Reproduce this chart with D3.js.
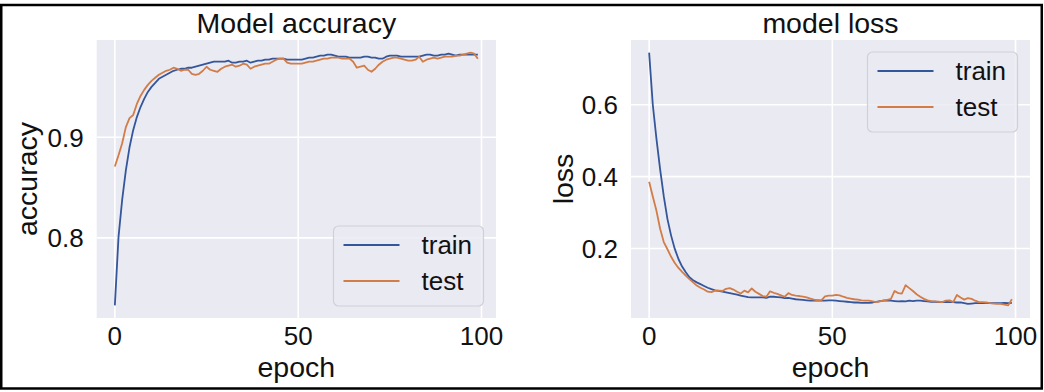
<!DOCTYPE html>
<html lang="en">
<head>
<meta charset="UTF-8">
<title>Model accuracy and model loss</title>
<script src="https://d3js.org/d3.v7.min.js"></script>
<style>
    body {
        margin: 0;
        background: #fff;
        font-family: "Liberation Sans", Arial, sans-serif;
    }
    svg text {
        fill: #111;
    }
</style>
</head>
<body>
<div id="chart"></div>
<script>
    // values, one per epoch (0..99)
    const trainAcc = [
        0.733, 0.801, 0.838, 0.867, 0.890, 0.907, 0.920, 0.930, 0.938, 0.945,
        0.950, 0.954, 0.958, 0.960, 0.962, 0.964, 0.966, 0.967, 0.968, 0.968,
        0.969, 0.969, 0.970, 0.971, 0.972, 0.973, 0.974, 0.975, 0.975, 0.975,
        0.975, 0.976, 0.974, 0.974, 0.975, 0.975, 0.976, 0.974, 0.975, 0.976,
        0.976, 0.977, 0.977, 0.978, 0.978, 0.978, 0.978, 0.977, 0.977, 0.977,
        0.977, 0.977, 0.978, 0.979, 0.979, 0.980, 0.981, 0.981, 0.982, 0.982,
        0.981, 0.980, 0.980, 0.980, 0.979, 0.979, 0.979, 0.979, 0.980, 0.980,
        0.979, 0.979, 0.978, 0.978, 0.980, 0.981, 0.981, 0.981, 0.980, 0.980,
        0.980, 0.980, 0.980, 0.980, 0.981, 0.982, 0.982, 0.981, 0.981, 0.982,
        0.982, 0.983, 0.982, 0.981, 0.982, 0.982, 0.982, 0.982, 0.982, 0.982
    ];
    const testAcc = [
        0.871, 0.882, 0.894, 0.910, 0.919, 0.922, 0.933, 0.941, 0.947, 0.952,
        0.956, 0.959, 0.962, 0.964, 0.966, 0.967, 0.969, 0.968, 0.966, 0.967,
        0.967, 0.963, 0.962, 0.963, 0.966, 0.970, 0.967, 0.966, 0.965, 0.968,
        0.970, 0.971, 0.972, 0.970, 0.971, 0.973, 0.972, 0.968, 0.970, 0.971,
        0.972, 0.973, 0.973, 0.975, 0.977, 0.978, 0.978, 0.974, 0.973, 0.973,
        0.973, 0.973, 0.974, 0.975, 0.975, 0.976, 0.977, 0.978, 0.978, 0.979,
        0.979, 0.979, 0.978, 0.978, 0.978, 0.975, 0.969, 0.970, 0.971, 0.967,
        0.965, 0.968, 0.972, 0.975, 0.977, 0.978, 0.979, 0.979, 0.978, 0.977,
        0.976, 0.976, 0.977, 0.980, 0.975, 0.977, 0.978, 0.979, 0.978, 0.979,
        0.980, 0.980, 0.980, 0.981, 0.981, 0.982, 0.983, 0.984, 0.983, 0.978
    ];
    const trainLoss = [
        0.745, 0.600, 0.505, 0.420, 0.345, 0.282, 0.236, 0.199, 0.171, 0.150,
        0.134, 0.120, 0.112, 0.106, 0.101, 0.096, 0.091, 0.087, 0.084, 0.082,
        0.080, 0.078, 0.076, 0.074, 0.072, 0.069, 0.067, 0.065, 0.064, 0.064,
        0.064, 0.064, 0.063, 0.066, 0.066, 0.065, 0.064, 0.062, 0.063, 0.061,
        0.059, 0.058, 0.057, 0.056, 0.055, 0.055, 0.056, 0.055, 0.055, 0.056,
        0.056, 0.055, 0.054, 0.053, 0.052, 0.051, 0.050, 0.050, 0.049, 0.049,
        0.049, 0.050, 0.052, 0.054, 0.055, 0.056, 0.055, 0.054, 0.053, 0.054,
        0.053, 0.055, 0.054, 0.055, 0.055, 0.054, 0.053, 0.052, 0.052, 0.051,
        0.051, 0.052, 0.051, 0.051, 0.050, 0.050, 0.048, 0.046, 0.047, 0.048,
        0.048, 0.048, 0.049, 0.048, 0.048, 0.048, 0.048, 0.049, 0.048, 0.049
    ];
    const testLoss = [
        0.386, 0.345, 0.305, 0.255, 0.218, 0.198, 0.177, 0.160, 0.146, 0.135,
        0.125, 0.115, 0.106, 0.097, 0.091, 0.086, 0.080, 0.079, 0.083, 0.083,
        0.082, 0.088, 0.090, 0.086, 0.080, 0.075, 0.083, 0.078, 0.089, 0.080,
        0.074, 0.068, 0.066, 0.081, 0.077, 0.074, 0.070, 0.066, 0.076, 0.071,
        0.069, 0.068, 0.066, 0.064, 0.061, 0.058, 0.056, 0.056, 0.067, 0.069,
        0.069, 0.071, 0.070, 0.066, 0.063, 0.061, 0.059, 0.058, 0.056, 0.055,
        0.055, 0.053, 0.051, 0.053, 0.056, 0.057, 0.060, 0.082, 0.076, 0.075,
        0.098, 0.090, 0.082, 0.073, 0.066, 0.060, 0.056, 0.054, 0.053, 0.052,
        0.051, 0.055, 0.056, 0.051, 0.071, 0.064, 0.058, 0.062, 0.060, 0.055,
        0.051, 0.051, 0.050, 0.048, 0.047, 0.046, 0.046, 0.044, 0.042, 0.059
    ];

    const seriesNames = ["train", "test"];
    const seriesColors = ["#34569b", "#d27c47"];
    const epochTicks = [0, 50, 100];
    const accTicks = [0.8, 0.9];
    const lossTicks = [0.2, 0.4, 0.6];

    const W = 1044, H = 392;

    const svg = d3.select("#chart")
        .append("svg")
        .attr("width", W)
        .attr("height", H);

    // black frame around the whole picture
    svg.append("rect")
        .attr("x", 1.25)
        .attr("y", 5)
        .attr("width", 1040.5)
        .attr("height", 383.5)
        .attr("fill", "none")
        .attr("stroke", "#000")
        .attr("stroke-width", 2.5);

    function drawPanel(p) {
        const g = svg.append("g")
            .attr("transform", "translate(" + p.left + "," + p.top + ")");

        const n = p.series[0].length;
        // matplotlib style 5% margins
        const xPad = (n - 1) * 0.05;
        const x = d3.scaleLinear()
            .domain([-xPad, n - 1 + xPad])
            .range([0, p.width]);

        const ext = d3.extent(p.series.flat());
        const yPad = (ext[1] - ext[0]) * 0.05;
        const y = d3.scaleLinear()
            .domain([ext[0] - yPad, ext[1] + yPad])
            .range([p.height, 0]);

        // axes background
        g.append("rect")
            .attr("width", p.width)
            .attr("height", p.height)
            .attr("fill", "#eaeaf2");

        // grid
        g.append("g")
            .selectAll("line")
            .data(epochTicks)
            .join("line")
            .attr("x1", d => x(d)).attr("x2", d => x(d))
            .attr("y1", 0).attr("y2", p.height)
            .attr("stroke", "#fff")
            .attr("stroke-width", 1.6);

        g.append("g")
            .selectAll("line")
            .data(p.yTicks)
            .join("line")
            .attr("x1", 0).attr("x2", p.width)
            .attr("y1", d => y(d)).attr("y2", d => y(d))
            .attr("stroke", "#fff")
            .attr("stroke-width", 1.6);

        // tick labels
        g.append("g")
            .selectAll("text")
            .data(epochTicks)
            .join("text")
            .attr("x", d => x(d))
            .attr("y", p.height + 27)
            .attr("text-anchor", "middle")
            .style("font-size", "26px")
            .text(d => d);

        g.append("g")
            .selectAll("text")
            .data(p.yTicks)
            .join("text")
            .attr("x", -13)
            .attr("y", d => y(d))
            .attr("dy", "0.36em")
            .attr("text-anchor", "end")
            .style("font-size", "26px")
            .text(d => d3.format(".1f")(d));

        // axis labels and title
        g.append("text")
            .attr("x", p.width / 2)
            .attr("y", p.height + 58.5)
            .attr("text-anchor", "middle")
            .style("font-size", "28.5px")
            .text("epoch");

        g.append("text")
            .attr("transform", "translate(" + p.yLabelX + "," + (p.height / 2) + ") rotate(-90)")
            .attr("text-anchor", "middle")
            .style("font-size", "28.5px")
            .text(p.yLabel);

        g.append("text")
            .attr("x", p.width / 2)
            .attr("y", -7)
            .attr("text-anchor", "middle")
            .style("font-size", "28.5px")
            .text(p.title);

        // lines
        const line = d3.line()
            .x((d, i) => x(i))
            .y(d => y(d));

        g.append("g")
            .selectAll("path")
            .data(p.series)
            .join("path")
            .attr("d", line)
            .attr("fill", "none")
            .attr("stroke", (d, i) => seriesColors[i])
            .attr("stroke-width", 1.8)
            .attr("stroke-linejoin", "round");

        // legend
        const lw = 150, lh = 80;
        const lx = p.width - 12.5 - lw;
        const ly = p.legendTop ? 12 : p.height - 12 - lh;
        const leg = g.append("g").attr("transform", "translate(" + lx + "," + ly + ")");

        leg.append("rect")
            .attr("width", lw)
            .attr("height", lh)
            .attr("rx", 5)
            .attr("fill", "#eaeaf2")
            .attr("fill-opacity", 0.8)
            .attr("stroke", "#d0d0d8")
            .attr("stroke-width", 1.2);

        const item = leg.selectAll("g.item")
            .data(seriesNames)
            .join("g")
            .attr("class", "item")
            .attr("transform", (d, i) => "translate(0," + (19 + i * 36) + ")");

        item.append("line")
            .attr("x1", 10).attr("x2", 66)
            .attr("stroke", (d, i) => seriesColors[i])
            .attr("stroke-width", 1.8);

        item.append("text")
            .attr("x", 88)
            .attr("dy", "0.36em")
            .style("font-size", "26px")
            .text(d => d);
    }

    drawPanel({
        left: 96.7, top: 40, width: 399.3, height: 278,
        series: [trainAcc, testAcc],
        yTicks: accTicks,
        title: "Model accuracy",
        yLabel: "accuracy",
        yLabelX: -60,
        legendTop: false
    });

    drawPanel({
        left: 631, top: 40, width: 399, height: 278,
        series: [trainLoss, testLoss],
        yTicks: lossTicks,
        title: "model loss",
        yLabel: "loss",
        yLabelX: -58,
        legendTop: true
    });
</script>
</body>
</html>
